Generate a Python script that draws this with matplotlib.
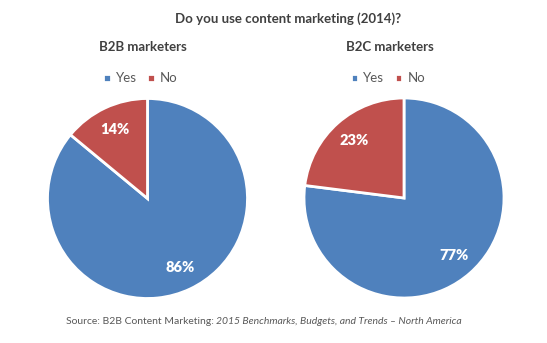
import matplotlib
matplotlib.use("Agg")
import matplotlib.pyplot as plt

categories = ["Yes", "No"]
b2b_values = [86, 14]
b2c_values = [77, 23]
panel_titles = ["B2B marketers", "B2C marketers"]
colors = ["#4F81BD", "#C0504D"]

W, H = 547, 343
fig = plt.figure(figsize=(W / 100, H / 100), dpi=100)
plt.rcParams["font.family"] = ["Lato", "DejaVu Sans"]

text_color = "#404040"


def px_axes(cx, cy, r):
    return fig.add_axes([(cx - r) / W, (H - cy - r) / H, 2 * r / W, 2 * r / H])


panels = [
    (b2b_values, panel_titles[0], (147.5, 198.5), 143, 140.5),
    (b2c_values, panel_titles[1], (404, 198), 390, 388),
]

for values, title, (cx, cy), title_x, legend_x in panels:
    ax = px_axes(cx, cy, 100)
    wedges, _, autotexts = ax.pie(
        values,
        colors=colors,
        startangle=90,
        counterclock=False,
        autopct=lambda p: f"{p:.0f}%",
        pctdistance=0.76,
        wedgeprops=dict(edgecolor="white", linewidth=2),
        textprops=dict(color="white", fontsize=10.5, fontweight="heavy"),
        radius=1.0,
    )
    ax.set_xlim(-1.0, 1.0)
    ax.set_ylim(-1.0, 1.0)
    ax.set_aspect("equal")
    ax.axis("off")

    fig.text(title_x / W, 1 - 47 / H, title, ha="center", va="center",
             fontsize=9.5, fontweight="bold", color=text_color)
    fig.legend(wedges, categories, loc="center", ncol=2, frameon=False,
               bbox_to_anchor=(legend_x / W, 1 - 78.5 / H),
               handlelength=0.55, handleheight=0.55, handletextpad=0.4,
               columnspacing=0.8, fontsize=9.5, labelcolor="#595959")

fig.text(288 / W, 1 - 19 / H, "Do you use content marketing (2014)?",
         ha="center", va="center", fontsize=9.5, fontweight="bold", color=text_color)

src = fig.text(66 / W, 1 - 322 / H, "Source: B2B Content Marketing: ",
               ha="left", va="center", fontsize=7.5, color="#595959")
fig.canvas.draw()
bb = src.get_window_extent()
fig.text(bb.x1 / W, 1 - 322 / H,
         "2015 Benchmarks, Budgets, and Trends \u2013 North America",
         ha="left", va="center", fontsize=7.5, style="italic", color="#595959")

fig.savefig("out.png", dpi=100, facecolor="white")
